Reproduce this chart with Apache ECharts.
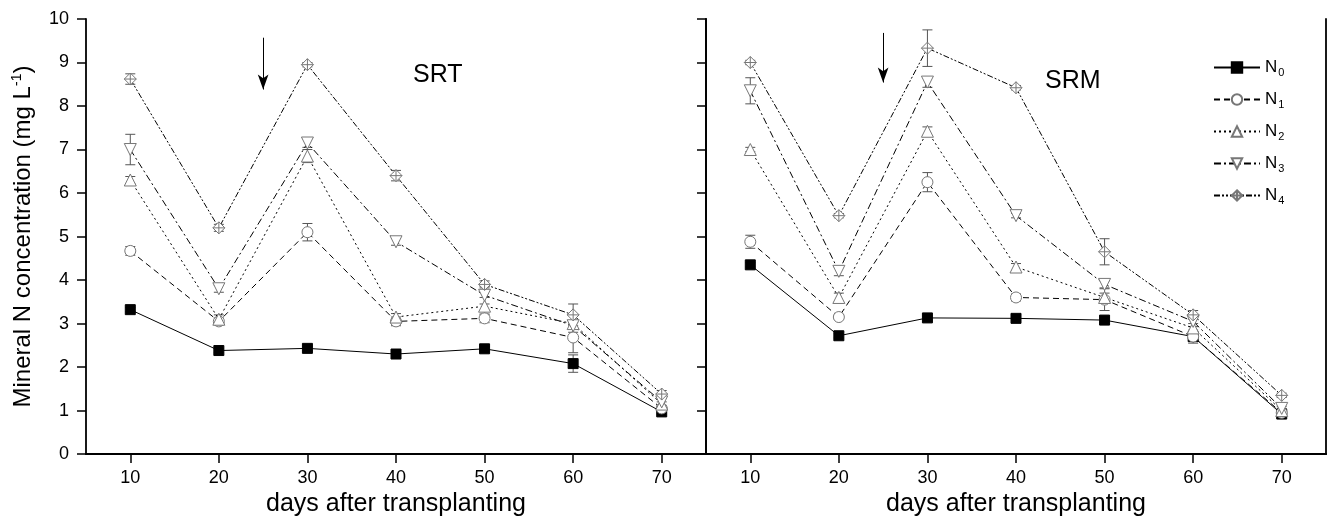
<!DOCTYPE html>
<html>
<head>
<meta charset="utf-8">
<script src="https://cdn.jsdelivr.net/npm/echarts@6/dist/echarts.min.js"></script>
<style>
  html, body { margin: 0; padding: 0; background: #fff; }
  #main { width: 1330px; height: 522px; }
</style>
</head>
<body>
<div id="main"></div>
<script>
// days after transplanting
var days = [10, 20, 30, 40, 50, 60, 70];
var xTicks = [10, 20, 30, 40, 50, 60, 70];
var names = ['N0', 'N1', 'N2', 'N3', 'N4'];

// SRT (left panel)
var srtN0 = [3.32, 2.38, 2.43, 2.30, 2.42, 2.08, 0.97];
var srtN1 = [4.67, 3.05, 5.10, 3.05, 3.12, 2.68, 1.05];
var srtN2 = [6.30, 3.10, 6.85, 3.15, 3.40, 3.00, 1.15];
var srtN3 = [7.00, 3.80, 7.15, 4.88, 3.65, 2.95, 1.20];
var srtN4 = [8.62, 5.20, 8.95, 6.40, 3.90, 3.20, 1.38];
var srtErrN0 = [0.05, 0.05, 0.05, 0.05, 0.05, 0.20, 0.05];
var srtErrN1 = [0.10, 0.08, 0.20, 0.10, 0.10, 0.35, 0.05];
var srtErrN2 = [0.08, 0.10, 0.15, 0.08, 0.20, 0.20, 0.05];
var srtErrN3 = [0.35, 0.08, 0.10, 0.08, 0.20, 0.25, 0.08];
var srtErrN4 = [0.12, 0.08, 0.05, 0.12, 0.08, 0.25, 0.08];

// SRM (right panel)
var srmN0 = [4.35, 2.72, 3.13, 3.12, 3.08, 2.70, 0.92];
var srmN1 = [4.88, 3.15, 6.25, 3.60, 3.55, 2.70, 0.95];
var srmN2 = [7.00, 3.60, 7.42, 4.30, 3.60, 2.90, 1.00];
var srmN3 = [8.35, 4.20, 8.55, 5.48, 3.90, 3.05, 1.05];
var srmN4 = [9.00, 5.48, 9.33, 8.42, 4.65, 3.20, 1.35];
var srmErrN0 = [0.05, 0.05, 0.05, 0.05, 0.05, 0.05, 0.05];
var srmErrN1 = [0.15, 0.05, 0.22, 0.08, 0.25, 0.15, 0.05];
var srmErrN2 = [0.05, 0.10, 0.10, 0.08, 0.10, 0.10, 0.05];
var srmErrN3 = [0.30, 0.10, 0.12, 0.05, 0.08, 0.12, 0.05];
var srmErrN4 = [0.05, 0.05, 0.42, 0.05, 0.30, 0.10, 0.05];

// arrow (fertilizer application) at day 25
var arrowDay = 25;
var srtArrow = [9.57, 8.38];
var srmArrow = [9.68, 8.54];

var srtVals = [srtN0, srtN1, srtN2, srtN3, srtN4];
var srtErrs = [srtErrN0, srtErrN1, srtErrN2, srtErrN3, srtErrN4];
var srmVals = [srmN0, srmN1, srmN2, srmN3, srmN4];
var srmErrs = [srmErrN0, srmErrN1, srmErrN2, srmErrN3, srmErrN4];

var font = 'Liberation Sans, Arial, sans-serif';
var markerGrey = '#777';

// 线型和符号
var styles = [
  { symbol: 'rect', size: 10, dash: 'solid', fill: '#000', border: '#000' },
  { symbol: 'circle', size: 11, dash: [6, 4], fill: '#fff', border: markerGrey },
  { symbol: 'triangle', size: 12, dash: [2, 3], fill: '#fff', border: markerGrey },
  { symbol: 'path://M-1,-1 L1,-1 L0,1 Z', size: 12, dash: [7, 3, 2, 3], fill: '#fff', border: markerGrey },
  { symbol: 'path://M0,-1 L1,0 L0,1 L-1,0 Z M0,-1 L0,1 M-1,0 L1,0', size: 12, dash: [6, 2, 2, 2, 2, 2], fill: '#fff', border: markerGrey }
];

function pairs(vals) {
  return days.map(function (d, i) { return [d, vals[i]]; });
}
function errPairs(vals, errs) {
  return days.map(function (d, i) { return [d, vals[i] - errs[i], vals[i] + errs[i]]; });
}

function errBar(params, api) {
  var x = api.value(0);
  var top = api.coord([x, api.value(2)]);
  var bot = api.coord([x, api.value(1)]);
  var w = 5;
  var st = { stroke: '#555', lineWidth: 1 };
  return {
    type: 'group',
    children: [
      { type: 'line', shape: { x1: top[0], y1: top[1], x2: bot[0], y2: bot[1] }, style: st },
      { type: 'line', shape: { x1: top[0] - w, y1: top[1], x2: top[0] + w, y2: top[1] }, style: st },
      { type: 'line', shape: { x1: bot[0] - w, y1: bot[1], x2: bot[0] + w, y2: bot[1] }, style: st }
    ]
  };
}

function arrowLine(a) {
  return {
    silent: true,
    symbol: ['none', 'arrow'],
    symbolSize: [8, 15],
    label: { show: false },
    lineStyle: { color: '#000', type: 'solid', width: 1 },
    data: [[{ coord: [arrowDay, a[0]] }, { coord: [arrowDay, a[1]] }]]
  };
}

var series = [];
[[srtVals, srtErrs, srtArrow], [srmVals, srmErrs, srmArrow]].forEach(function (panel, g) {
  panel[0].forEach(function (vals, k) {
    series.push({
      type: 'custom',
      xAxisIndex: g * 2,
      yAxisIndex: g * 2,
      renderItem: errBar,
      data: errPairs(vals, panel[1][k]),
      z: 1,
      silent: true
    });
  });
  panel[0].forEach(function (vals, k) {
    var s = styles[k];
    var item = {
      name: names[k],
      type: 'line',
      xAxisIndex: g * 2,
      yAxisIndex: g * 2,
      data: pairs(vals),
      symbol: s.symbol,
      symbolSize: s.size,
      showAllSymbol: true,
      lineStyle: { color: '#000', width: 1, type: s.dash },
      itemStyle: { color: s.fill, borderColor: s.border, borderWidth: 1 },
      z: 3
    };
    if (k === 0) item.markLine = arrowLine(panel[2]);
    series.push(item);
  });
});

var axisLine = { show: true, lineStyle: { color: '#000', width: 1.8 } };

function bottomX(grid) {
  return {
    type: 'value', gridIndex: grid, min: 5, max: 75, position: 'bottom',
    axisLine: axisLine,
    axisTick: { show: true, inside: false, length: 9, customValues: xTicks, lineStyle: { color: '#000', width: 1.5 } },
    axisLabel: { customValues: xTicks, color: '#000', fontFamily: font, fontSize: 18, margin: 15 },
    splitLine: { show: false },
    name: 'days after transplanting',
    nameLocation: 'middle',
    nameGap: 36,
    nameTextStyle: { color: '#000', fontFamily: font, fontSize: 25 }
  };
}
function topX(grid) {
  return {
    type: 'value', gridIndex: grid, min: 5, max: 75, position: 'top',
    axisLine: axisLine, axisTick: { show: false }, axisLabel: { show: false }, splitLine: { show: false }
  };
}

var option = {
  backgroundColor: '#fff',
  animation: false,
  grid: [
    { left: 86, top: 19, width: 620, height: 439 },
    { left: 706, top: 19, width: 620, height: 439 }
  ],
  legend: {
    data: names,
    orient: 'vertical',
    left: 1208,
    top: 54,
    itemWidth: 46,
    itemHeight: 13,
    itemGap: 13,
    formatter: function (n) { return '{b|N}{s|' + n.slice(1) + '}'; },
    textStyle: {
      color: '#000',
      fontFamily: font,
      rich: {
        b: { fontSize: 17, fontFamily: font, color: '#000' },
        s: { fontSize: 11, fontFamily: font, color: '#000', padding: [10, 0, 0, 1] }
      }
    }
  },
  graphic: [
    { type: 'text', left: 413, top: 63, style: { text: 'SRT', font: '25px ' + font, fill: '#000' } },
    { type: 'text', left: 1045, top: 69, style: { text: 'SRM', font: '25px ' + font, fill: '#000' } }
  ],
  xAxis: [bottomX(0), topX(0), bottomX(1), topX(1)],
  yAxis: [
    {
      type: 'value', gridIndex: 0, min: 0, max: 10, interval: 1, position: 'left',
      axisLine: axisLine,
      axisTick: { show: true, inside: false, length: 9, lineStyle: { color: '#000', width: 1.5 } },
      axisLabel: { color: '#000', fontFamily: font, fontSize: 18, margin: 17 },
      splitLine: { show: false },
      name: 'Mineral N concentration (mg L{sup|-1})',
      nameLocation: 'middle',
      nameGap: 50,
      nameTextStyle: {
        color: '#000', fontFamily: font, fontSize: 24,
        rich: { sup: { fontSize: 14, fontFamily: font, color: '#000', padding: [0, 0, 12, 0] } }
      }
    },
    {
      type: 'value', gridIndex: 0, min: 0, max: 10, interval: 1, position: 'right',
      axisLine: axisLine,
      axisTick: { show: true, inside: true, length: 9, lineStyle: { color: '#000', width: 1.5 } },
      axisLabel: { show: false }, splitLine: { show: false }
    },
    {
      type: 'value', gridIndex: 1, min: 0, max: 10, interval: 1, position: 'left',
      axisLine: axisLine, axisTick: { show: false }, axisLabel: { show: false }, splitLine: { show: false }
    },
    {
      type: 'value', gridIndex: 1, min: 0, max: 10, interval: 1, position: 'right',
      axisLine: axisLine, axisTick: { show: false }, axisLabel: { show: false }, splitLine: { show: false }
    }
  ],
  series: series
};

var chart = echarts.init(document.getElementById('main'));
chart.setOption(option);
</script>
</body>
</html>
